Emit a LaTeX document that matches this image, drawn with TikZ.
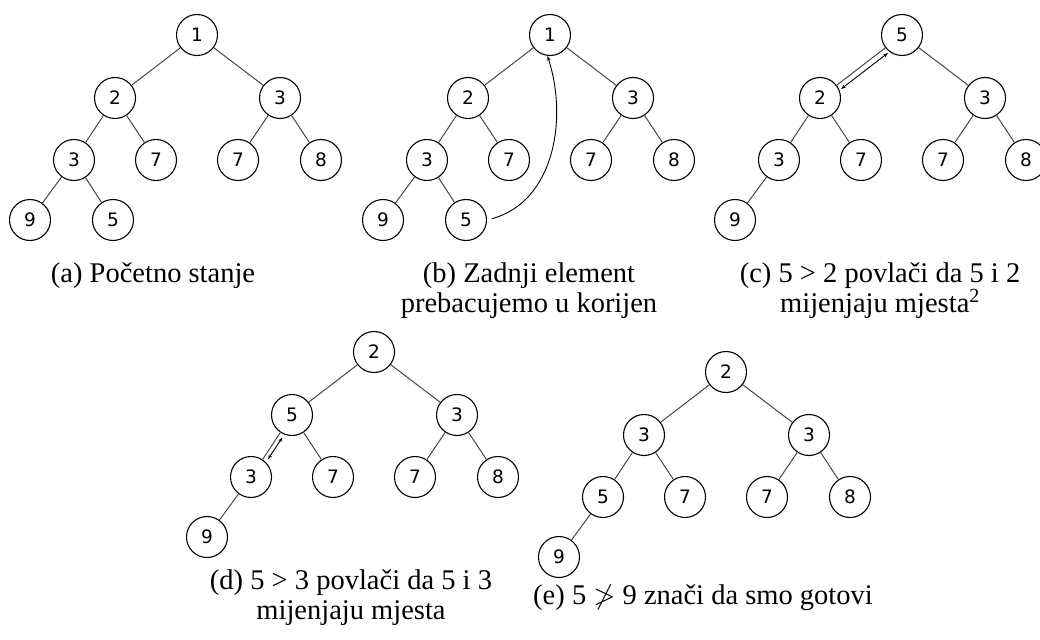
\documentclass[tikz,border=0pt]{standalone}
\usepackage{fontspec}
\usepackage{amssymb}
\setmainfont{Liberation Serif}
\newfontfamily\nodefont{DejaVu Sans}
\usetikzlibrary{arrows.meta,calc}
\tikzset{
  hn/.style={circle,draw=black,line width=1.1pt,minimum size=41pt,inner sep=0pt,
    font=\nodefont\fontsize{18.5}{18.5}\selectfont},
  tedge/.style={draw=black!72,line width=1pt},
  arr/.style={-{Stealth[length=5pt,width=3.5pt]},line width=0.9pt},
  darr/.style={{Stealth[length=5pt,width=3.5pt]}-{Stealth[length=5pt,width=3.5pt]},line width=0.9pt},
  captext/.style={font=\fontsize{28.5}{30}\selectfont,align=center,inner sep=0pt,anchor=base},
}
\newcommand\heaptree[9]{%
  \node[hn] (#1-1) at (197,35) {#2};
  \node[hn] (#1-2) at (115,98) {#3};
  \node[hn] (#1-3) at (280,98) {#4};
  \node[hn] (#1-4) at (74,160) {#5};
  \node[hn] (#1-5) at (156,160) {#6};
  \node[hn] (#1-6) at (238,160) {#7};
  \node[hn] (#1-7) at (321,160) {#8};
  \node[hn] (#1-8) at (30,220) {#9};
  \draw[tedge] (#1-1)--(#1-2) (#1-1)--(#1-3) (#1-2)--(#1-4) (#1-2)--(#1-5)
              (#1-3)--(#1-6) (#1-3)--(#1-7) (#1-4)--(#1-8);
}
\begin{document}
\begin{tikzpicture}[x=1pt,y=-1pt]
\useasboundingbox (0,0) rectangle (1040,639);
% (a)
\begin{scope}
  \heaptree{a}{1}{2}{3}{3}{7}{7}{8}{9}
  \node[hn] (a-9) at (113,220) {5};
  \draw[tedge] (a-4)--(a-9);
\end{scope}
% (b)
\begin{scope}[shift={(353,0)}]
  \heaptree{b}{1}{2}{3}{3}{7}{7}{8}{9}
  \node[hn] (b-9) at (113,220) {5};
  \draw[tedge] (b-4)--(b-9);
\end{scope}
\draw[arr,shorten <=5pt] (b-9.east) to[out=15,in=-72] (b-1.-97);
% (c)
\begin{scope}[shift={(705,0)}]
  \heaptree{c}{5}{2}{3}{3}{7}{7}{8}{9}
\end{scope}
\draw[darr,transform canvas={shift={(3.5pt,-4.5pt)}},shorten <=1pt,shorten >=1pt] (c-2)--(c-1);
% (d)
\begin{scope}[shift={(177,317)}]
  \heaptree{d}{2}{5}{3}{3}{7}{7}{8}{9}
\end{scope}
\draw[darr,transform canvas={shift={(3.6pt,-2.4pt)}},shorten <=3pt,shorten >=3pt] (d-4)--(d-2);
% (e)
\begin{scope}[shift={(529,337)}]
  \heaptree{e}{2}{3}{3}{5}{7}{7}{8}{9}
\end{scope}
% captions (base anchor = baseline of the last line)
\node[captext] (capa) at (153,282) {(a) Početno stanje};
\node[captext] (capb) at (529,312) {(b) Zadnji element\\prebacujemo u korijen};
\node[captext] (capc) at (880,312) {(c) 5 > 2 povlači da 5 i 2\\mijenjaju mjesta\textsuperscript{2}};
\node[captext] (capd) at (351,619) {(d) 5 > 3 povlači da 5 i 3\\mijenjaju mjesta};
\node[captext] (cape) at (703,604) {(e) 5 $\ngtr$ 9 znači da smo gotovi};
\end{tikzpicture}
\end{document}
